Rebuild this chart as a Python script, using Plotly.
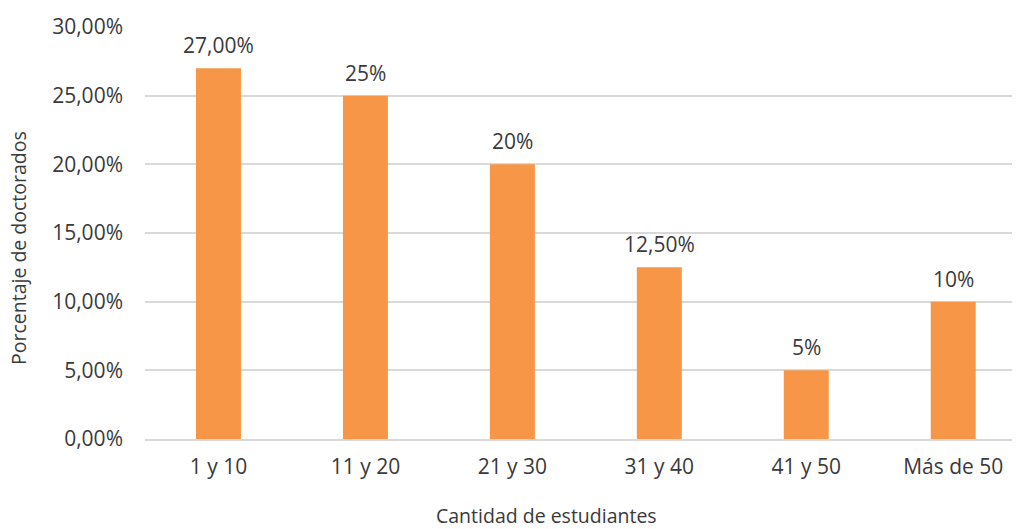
import plotly.graph_objects as go

# Distribution of doctoral programmes by number of students
categories = ["1 y 10", "11 y 20", "21 y 30", "31 y 40", "41 y 50", "Más de 50"]
percentages = [27.0, 25.0, 20.0, 12.5, 5.0, 10.0]
bar_labels = ["27,00%", "25%", "20%", "12,50%", "5%", "10%"]

tick_values = [0, 5, 10, 15, 20, 25, 30]
tick_labels = ["0,00%", "5,00%", "10,00%", "15,00%", "20,00%", "25,00%", "30,00%"]

x_title = "Cantidad de estudiantes"
y_title = "Porcentaje de doctorados"

text_color = "#3a3a3a"
font_family = "'Open Sans', Lato, sans-serif"

# plot-area geometry in pixels
W, H = 1016, 529
L, R, T, B = 145, 4, 27, 90
plot_w = W - L - R
plot_h = H - T - B

fig = go.Figure(
    go.Bar(
        x=categories,
        y=percentages,
        width=0.306,
        marker=dict(color="#F79646", line=dict(width=0)),
        hoverinfo="skip",
    )
)

# value labels above each bar
for cat, val, lab in zip(categories, percentages, bar_labels):
    fig.add_annotation(
        x=cat, y=val, text=lab, showarrow=False,
        yanchor="middle", yshift=23,
        font=dict(size=21, color=text_color, family=font_family),
    )

# axis titles placed in paper coordinates
fig.add_annotation(
    x=(546 - L) / plot_w, y=(T + plot_h - 515) / plot_h,
    xref="paper", yref="paper", xanchor="center", yanchor="middle",
    text=x_title, showarrow=False,
    font=dict(size=19.5, color=text_color, family=font_family),
)
fig.add_annotation(
    x=(18 - L) / plot_w, y=(T + plot_h - 248) / plot_h,
    xref="paper", yref="paper", xanchor="center", yanchor="middle",
    text=y_title, textangle=-90, showarrow=False,
    font=dict(size=19.5, color=text_color, family=font_family),
)

fig.update_layout(
    width=W,
    height=H,
    margin=dict(l=L, r=R, t=T, b=B),
    paper_bgcolor="white",
    plot_bgcolor="white",
    showlegend=False,
    font=dict(family=font_family, color=text_color, size=20),
)

fig.update_xaxes(
    range=[-0.5, 5.4],
    automargin=False,
    showgrid=False,
    showline=True,
    linecolor="#D9D9D9",
    linewidth=1.5,
    ticks="",
    ticklabelstandoff=8,
    tickfont=dict(size=21, color=text_color),
)

fig.update_yaxes(
    range=[0, 30],
    automargin=False,
    tickvals=tick_values,
    ticktext=tick_labels,
    showgrid=True,
    gridcolor="#D9D9D9",
    gridwidth=1.5,
    zeroline=False,
    ticks="",
    ticklabelstandoff=21,
    tickfont=dict(size=21, color=text_color),
)

fig.write_html("out.html")
